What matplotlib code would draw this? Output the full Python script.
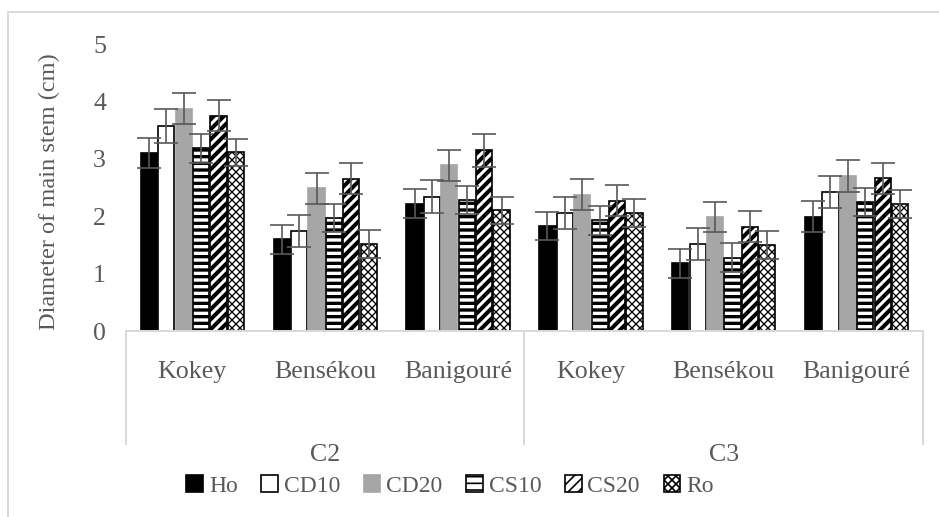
import matplotlib
matplotlib.use("Agg")
import matplotlib.pyplot as plt
import matplotlib.patches as mpatches
from matplotlib.lines import Line2D
import numpy as np

# --- data ---
groups = ["C2", "C3"]
sites = ["Kokey", "Bensékou", "Banigouré", "Kokey", "Bensékou", "Banigouré"]
series = ["Ho", "CD10", "CD20", "CS10", "CS20", "Ro"]

ho = [3.10, 1.60, 2.22, 1.83, 1.18, 1.99]
cd10 = [3.57, 1.74, 2.34, 2.05, 1.51, 2.42]
cd20 = [3.87, 2.49, 2.89, 2.37, 1.99, 2.70]
cs10 = [3.18, 1.97, 2.28, 1.93, 1.28, 2.25]
cs20 = [3.75, 2.65, 3.15, 2.27, 1.82, 2.66]
ro = [3.11, 1.52, 2.10, 2.06, 1.50, 2.21]

ho_err = [0.26, 0.25, 0.25, 0.25, 0.25, 0.27]
cd10_err = [0.30, 0.28, 0.29, 0.28, 0.28, 0.28]
cd20_err = [0.27, 0.27, 0.27, 0.27, 0.26, 0.28]
cs10_err = [0.25, 0.25, 0.25, 0.25, 0.25, 0.25]
cs20_err = [0.27, 0.27, 0.29, 0.27, 0.27, 0.27]
ro_err = [0.23, 0.24, 0.24, 0.24, 0.24, 0.24]

values = [ho, cd10, cd20, cs10, cs20, ro]
errors = [ho_err, cd10_err, cd20_err, cs10_err, cs20_err, ro_err]

# style per series: facecolor, edgecolor, hatch, hatch linewidth
styles = [
    ("black", "black", None, 1.0),
    ("white", "black", None, 1.0),
    ("#a6a6a6", "#a6a6a6", None, 1.0),
    ("white", "black", "---", 2.0),
    ("white", "black", "////", 2.4),
    ("white", "black", "xxxxx", 0.8),
]

TXT = "#595959"
AXC = "#d9d9d9"
plt.rcParams["font.family"] = ["Liberation Serif", "DejaVu Serif"]
FS = 15.5


def set_hlw(artist, lw):
    # per-artist hatch width where the matplotlib version allows it
    if hasattr(artist, "set_hatch_linewidth"):
        artist.set_hatch_linewidth(lw)
    else:
        artist._hatch_linewidth = lw


DPI = 120
fig = plt.figure(figsize=(939 / DPI, 517 / DPI), dpi=DPI)
ax = fig.add_axes([126 / 939, (517 - 331) / 517, (923 - 126) / 939, (331 - 44) / 517])

x = np.arange(len(sites))
step = 0.131
width = 0.122
for i, (name, vals, errs) in enumerate(zip(series, values, errors)):
    fc, ec, hatch, hlw = styles[i]
    pos = x + (i - 2.5) * step
    bars = ax.bar(pos, vals, width, color=fc, edgecolor=ec, hatch=hatch,
                  linewidth=1.0, label=name, zorder=2)
    for b in bars:
        set_hlw(b, hlw)
    ax.errorbar(pos, vals, yerr=errs, fmt="none", ecolor="#595959",
                elinewidth=1.0, capsize=7, capthick=1.0, zorder=3)

ax.set_xlim(-0.5, 5.5)
ax.set_ylim(0, 5)
ax.set_yticks(range(6))
ax.tick_params(axis="y", length=0, pad=12, labelsize=FS, labelcolor=TXT)
ax.set_xticks(x)
ax.set_xticklabels(sites)
ax.tick_params(axis="x", length=0, pad=18, labelsize=FS, labelcolor=TXT)
for s in ["left", "right", "top"]:
    ax.spines[s].set_visible(False)
ax.spines["bottom"].set_color(AXC)
ax.spines["bottom"].set_linewidth(1.2)

# multi-level category axis: separators and group labels
trans = ax.get_xaxis_transform()
sep_bottom = -(444 - 331) / (331 - 44)
for xs in [-0.5, 2.5, 5.5]:
    ax.plot([xs, xs], [0, sep_bottom], color=AXC, lw=1.2, transform=trans,
            clip_on=False)
for gi, g in enumerate(groups):
    ax.text(gi * 3 + 1, -(455 - 331) / (331 - 44), g, transform=trans,
            ha="center", va="center", fontsize=FS, color=TXT)

ax.set_ylabel("Diameter of main stem (cm)", fontsize=14.6, color=TXT)
ax.yaxis.set_label_coords(-(126 - 60) / (923 - 126), (331 - 192) / (331 - 44))

# legend
handles = []
for i, name in enumerate(series):
    fc, ec, hatch, hlw = styles[i]
    h = mpatches.Patch(facecolor=fc, edgecolor=ec, hatch=hatch,
                       linewidth=1.0, label=name)
    set_hlw(h, min(hlw, 1.2))
    handles.append(h)
leg = fig.legend(handles=handles, loc="center", ncol=6, frameon=False,
                 bbox_to_anchor=(450 / 939, (517 - 486) / 517),
                 fontsize=14.2, handlelength=0.7, handleheight=0.7,
                 handletextpad=0.25, columnspacing=1.0)
for t in leg.get_texts():
    t.set_color(TXT)

# chart border (top and left visible in the reference)
fig.add_artist(Line2D([8 / 939, 1.0], [(517 - 12) / 517] * 2, color=AXC, lw=1.2))
fig.add_artist(Line2D([8 / 939] * 2, [0, (517 - 12) / 517], color=AXC, lw=1.2))

fig.savefig("out.png", dpi=DPI)
